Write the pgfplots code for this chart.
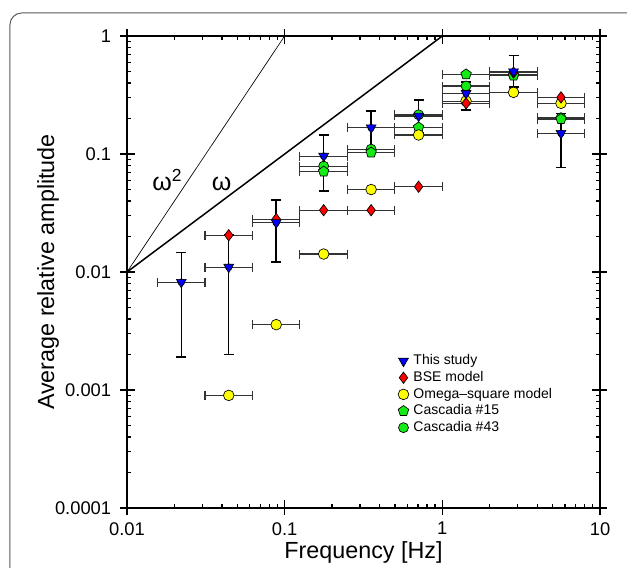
\documentclass[border=0pt]{standalone}
\usepackage{fontspec}
\setmainfont{Liberation Sans}
\usepackage{pgfplots}
\pgfplotsset{compat=1.18}
\usetikzlibrary{plotmarks,calc}

\definecolor{mblue}{RGB}{0,0,255}
\definecolor{mred}{RGB}{255,0,0}
\definecolor{myellow}{RGB}{255,255,0}
\definecolor{mgreen}{RGB}{20,235,20}

\begin{document}
\begin{tikzpicture}
\begin{axis}[
  scale only axis,
  width=283.8pt, height=283.2pt,
  xmode=log, ymode=log,
  xmin=0.01, xmax=10, ymin=0.0001, ymax=1,
  xtick={0.01,0.1,1,10}, xticklabels={0.01,0.1,1,10},
  ytick={0.0001,0.001,0.01,0.1,1}, yticklabels={0.0001,0.001,0.01,0.1,1},
  extra x ticks={0.01,0.1,1,10}, extra x tick labels={},
  extra y ticks={0.0001,0.001,0.01,0.1,1}, extra y tick labels={},
  extra tick style={tick align=outside, major tick length=4pt},
  tick align=inside, major tick length=5pt, minor tick length=2.5pt,
  tick style={black, line width=0.8pt},
  axis line style={line width=1.3pt},
  xlabel={Frequency [Hz]}, ylabel={Average relative amplitude},
  label style={font=\fontsize{14}{16}\selectfont},
  xlabel style={at={(rel axis cs:0.5,-0.106)}, anchor=base},
  ylabel style={at={(rel axis cs:-0.1543,0.5)}, anchor=base},
  tick label style={font=\fontsize{11}{13}\selectfont},
  xticklabel style={yshift=-5pt},
  yticklabel style={xshift=-6pt},
  legend style={draw=none, fill=none, at={(rel axis cs:0.562,0.336)}, anchor=north west,
    font=\fontsize{8.4}{10}\selectfont, row sep=0.4pt, column sep=1.8pt, nodes={inner sep=1pt}},
  legend cell align=left,
  legend image code/.code={\draw[#1] plot coordinates {(0cm,0cm)};},
  reverse legend,
  error bars/error bar style={black!80, line width=0.65pt},
  error bars/error mark options={rotate=90, mark size=2.7pt, line width=0.65pt},
]
% reference slopes
\addplot[black, line width=0.4pt, forget plot] coordinates {(0.01,0.01) (0.1,1)};
\addplot[black, line width=0.9pt, forget plot] coordinates {(0.01,0.01) (1,1)};
\node[anchor=base west, font=\fontsize{15}{17}\selectfont, inner sep=0pt] at (axis cs:0.0144,0.0495) {ω\textsuperscript{2}};
\node[anchor=base west, font=\fontsize{15}{17}\selectfont, inner sep=0pt] at (axis cs:0.0344,0.0495) {ω};

% This study: frequency bins (horizontal bars)
\addplot[forget plot, only marks, mark=none,
  error bars/.cd, x dir=both, x explicit relative]
coordinates {
 (0.02210,0.0082) += (0.41421,0) -= (0.29289,0)
 (0.04419,0.0110) += (0.41421,0) -= (0.29289,0)
 (0.08839,0.0262) += (0.41421,0) -= (0.29289,0)
 (0.17678,0.0960) += (0.41421,0) -= (0.29289,0)
 (0.35355,0.1670) += (0.41421,0) -= (0.29289,0)
 (0.70711,0.2100) += (0.41421,0) -= (0.29289,0)
 (1.41421,0.3270) += (0.41421,0) -= (0.29289,0)
 (2.82843,0.4980) += (0.41421,0) -= (0.29289,0)
 (5.65685,0.1500) += (0.41421,0) -= (0.29289,0)
};

% Cascadia #43
\addplot+[only marks, mark=*, mark size=3pt, draw=black, fill=mgreen, mark options={draw=black, fill=mgreen, line width=0.4pt},
  error bars/.cd, x dir=both, x explicit relative]
coordinates {
 (0.17678,0.079) += (0.41421,0) -= (0.29289,0)
 (0.35355,0.110) += (0.41421,0) -= (0.29289,0)
 (0.70711,0.215) += (0.41421,0) -= (0.29289,0)
 (1.41421,0.377) += (0.41421,0) -= (0.29289,0)
 (2.82843,0.467) += (0.41421,0) -= (0.29289,0)
 (5.65685,0.203) += (0.41421,0) -= (0.29289,0)
};
\addlegendentry{Cascadia \#43}

% Cascadia #15
\addplot+[only marks, mark=pentagon*, mark size=3.3pt, draw=black, fill=mgreen, mark options={draw=black, fill=mgreen, line width=0.4pt},
  error bars/.cd, x dir=both, x explicit relative]
coordinates {
 (0.17678,0.071) += (0.41421,0) -= (0.29289,0)
 (0.35355,0.103) += (0.41421,0) -= (0.29289,0)
 (0.70711,0.168) += (0.41421,0) -= (0.29289,0)
 (1.41421,0.473) += (0.41421,0) -= (0.29289,0)
 (2.82843,0.462) += (0.41421,0) -= (0.29289,0)
 (5.65685,0.198) += (0.41421,0) -= (0.29289,0)
};
\addlegendentry{Cascadia \#15}

% Omega-square model
\addplot+[only marks, mark=*, mark size=3.2pt, draw=black, fill=myellow, mark options={draw=black, fill=myellow, line width=0.4pt},
  error bars/.cd, x dir=both, x explicit relative]
coordinates {
 (0.04419,0.0009) += (0.41421,0) -= (0.29289,0)
 (0.08839,0.00358) += (0.41421,0) -= (0.29289,0)
 (0.17678,0.0142) += (0.41421,0) -= (0.29289,0)
 (0.35355,0.050) += (0.41421,0) -= (0.29289,0)
 (0.70711,0.145) += (0.41421,0) -= (0.29289,0)
 (1.41421,0.281) += (0.41421,0) -= (0.29289,0)
 (2.82843,0.333) += (0.41421,0) -= (0.29289,0)
 (5.65685,0.269) += (0.41421,0) -= (0.29289,0)
};
\addlegendentry{Omega--square model}

% BSE model
\addplot+[only marks, mark=diamond*, mark size=3.4pt, draw=black, fill=mred, mark options={draw=black, fill=mred, line width=0.4pt},
  error bars/.cd, x dir=both, x explicit relative]
coordinates {
 (0.04419,0.0205) += (0.41421,0) -= (0.29289,0)
 (0.08839,0.0281) += (0.41421,0) -= (0.29289,0)
 (0.17678,0.0334) += (0.41421,0) -= (0.29289,0)
 (0.35355,0.0334) += (0.41421,0) -= (0.29289,0)
 (0.70711,0.0528) += (0.41421,0) -= (0.29289,0)
 (1.41421,0.269) += (0.41421,0) -= (0.29289,0)
 (2.82843,0.490) += (0.41421,0) -= (0.29289,0)
 (5.65685,0.302) += (0.41421,0) -= (0.29289,0)
};
\addlegendentry{BSE model}

% This study
\addplot+[only marks, mark=triangle*, mark size=3.4pt, draw=black, fill=mblue, mark options={rotate=180, draw=black, fill=mblue, line width=0.4pt},
  error bars/.cd, y dir=both, y explicit,
  error bar style={black, line width=0.9pt},
  error mark options={rotate=90, mark size=3pt, line width=0.9pt}]
coordinates {
 (0.02210,0.0082) += (0,0.0064) -= (0,0.0063)
 (0.04419,0.0110) += (0,0.0095) -= (0,0.0090)
 (0.08839,0.0262) += (0,0.0146) -= (0,0.0140)
 (0.17678,0.0960) += (0,0.0490) -= (0,0.0473)
 (0.35355,0.1670) += (0,0.0650) -= (0,0.0600)
 (0.70711,0.2100) += (0,0.0770) -= (0,0.0600)
 (1.41421,0.3270) += (0,0.0800) -= (0,0.0910)
 (2.82843,0.4980) += (0,0.1880) -= (0,0.1280)
 (5.65685,0.1500) += (0,0.0700) -= (0,0.0735)
};
\addlegendentry{This study}

\coordinate (sw) at (rel axis cs:0,0);
\coordinate (ne) at (rel axis cs:1,1);
\end{axis}
\pgfresetboundingbox
\path[use as bounding box] ($(sw)+(-76.2pt,-35.4pt)$) rectangle ($(ne)+(16.2pt,21.6pt)$);
\draw[rounded corners=7pt, black!65, line width=0.6pt] ($(sw)+(-70.2pt,-60pt)$) |- ($(ne)+(40pt,13.8pt)$);
\end{tikzpicture}
\end{document}
